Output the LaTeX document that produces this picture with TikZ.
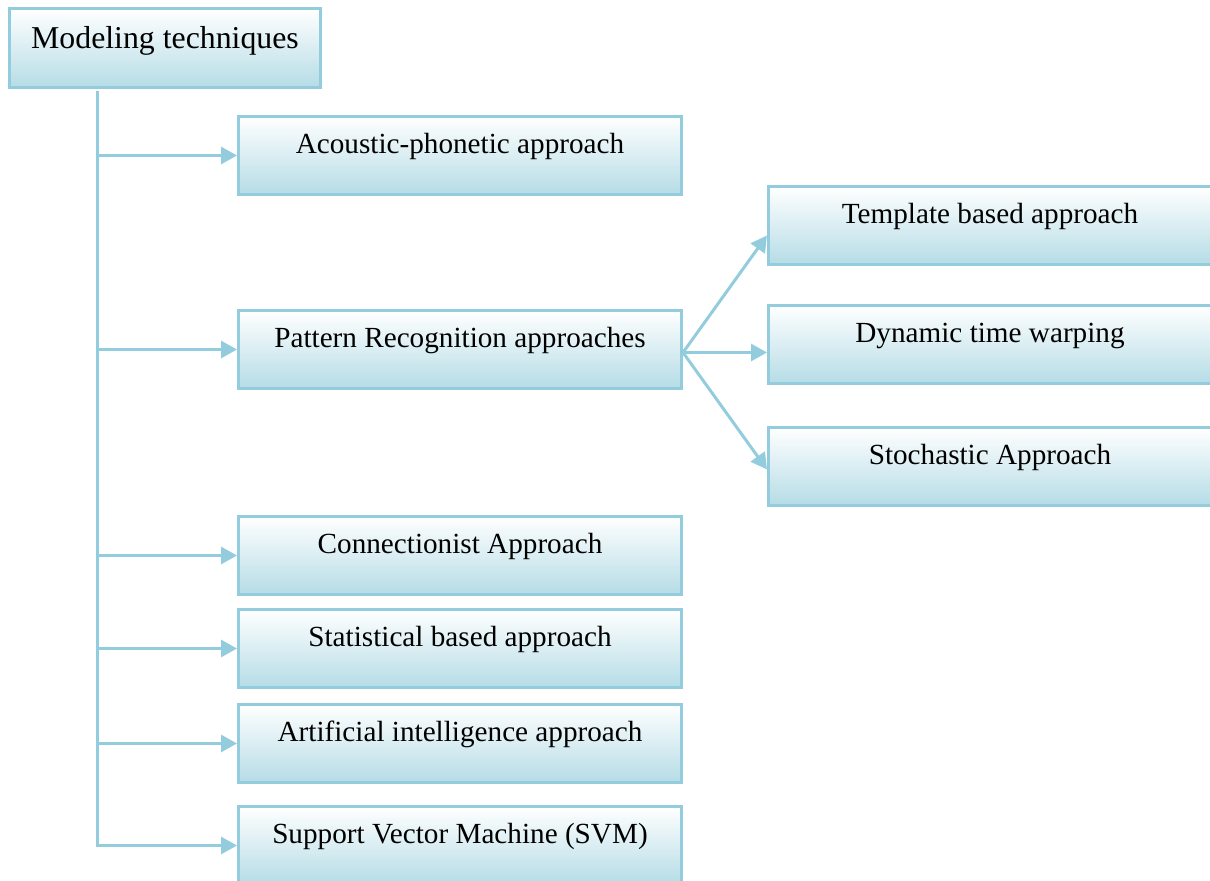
\documentclass[tikz,border=0pt]{standalone}
\usepackage{fontspec}
\setmainfont{Liberation Serif}
\usetikzlibrary{arrows.meta}
\definecolor{edgeblue}{HTML}{93CDDD}
\definecolor{fillblue}{HTML}{B5DCE6}
\tikzset{
  box/.style={draw=edgeblue, line width=1.5pt, top color=white, bottom color=fillblue,
    anchor=north west, inner xsep=0pt, inner ysep=0pt, minimum width=221.5pt,
    text height=18.5pt, text depth=20.5pt, font=\fontsize{14.6}{17}\selectfont},
  rootbox/.style={box, minimum width=155.5pt, text height=20pt, text depth=19.5pt,
    font=\fontsize{15.9}{18}\selectfont},
  link/.style={draw=edgeblue, line width=1.5pt},
  arrowlink/.style={link, -{Triangle[length=8pt,width=8.5pt]}}
}
\begin{document}
\begin{tikzpicture}[x=0.5pt,y=-0.5pt]
  \useasboundingbox (0,0) rectangle (1210,881);
  \clip (0,0) rectangle (1210,881);

  % root
  \node[rootbox] (root) at (8,7) {Modeling techniques};

  % first-level branches
  \node[box] (acou) at (237,115) {Acoustic-phonetic approach};
  \node[box] (patt) at (237,309) {Pattern Recognition approaches};
  \node[box] (conn) at (237,515) {Connectionist Approach};
  \node[box] (stat) at (237,608) {Statistical based approach};
  \node[box] (arti) at (237,703) {Artificial intelligence approach};
  \node[box] (svm)  at (237,805) {Support Vector Machine (SVM)};

  % pattern recognition sub-branches
  \node[box] (tmpl) at (767,185) {Template based approach};
  \node[box] (dtw)  at (767,304) {Dynamic time warping};
  \node[box] (stoc) at (767,426) {Stochastic Approach};

  % trunk
  \coordinate (trunk) at (97,91);
  \draw[arrowlink] (trunk) |- (svm.west);
  \foreach \n in {acou,patt,conn,stat,arti}
    \draw[arrowlink] (trunk |- \n.west) -- (\n.west);

  % fan-out from pattern recognition
  \coordinate (fan) at ([yshift=-1.5pt]patt.east);
  \draw[arrowlink] (fan) -- ([yshift=-5pt]tmpl.west);
  \draw[arrowlink] (fan) -- (fan -| dtw.west);
  \draw[arrowlink] (fan) -- ([yshift=-1.5pt]stoc.west);
\end{tikzpicture}
\end{document}
